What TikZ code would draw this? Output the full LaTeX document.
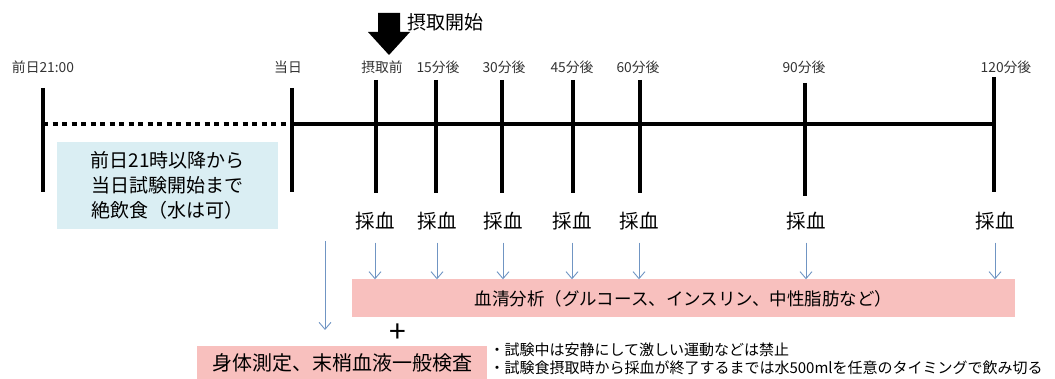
\documentclass[tikz,border=0pt]{standalone}
\usepackage{fontspec}
\setmainfont{Noto Sans CJK JP}
\usetikzlibrary{arrows.meta}

\definecolor{boxblue}{HTML}{DAEEF3}
\definecolor{boxpink}{HTML}{F8C0BE}
\definecolor{arrowblue}{HTML}{7095C3}

\begin{document}
\begin{tikzpicture}[x=1pt, y=-1pt,
      tick/.style ={line width=4.5pt},
      timelabel/.style ={font=\fontsize{13.8}{15}\selectfont, text=black!80},
      sample/.style ={font=\fontsize{19.5}{21}\selectfont},
      blood/.style ={draw=arrowblue, line width=0.9pt, -{Straight Barb[length=7pt,width=12pt]}},
      pinkbox/.style ={fill=boxpink, inner sep=0pt}]

   \useasboundingbox (0,0) rectangle (1055,379);

   % timeline
   \coordinate (P) at (43,124);
   \coordinate (D) at (292,124);
   \coordinate (E) at (995,124);
   \draw[line width=4.5pt, dash pattern=on 5pt off 4.5pt] (P) -- (D);
   \draw[line width=4.5pt] (D) -- (E);

   \draw[tick] (43,88) -- (43,192);
   \draw[tick] (292,88) -- (292,192);
   \draw[tick] (376,80) -- (376,193);
   \draw[tick] (436,80) -- (436,193);
   \draw[tick] (502,80) -- (502,193);
   \draw[tick] (573,80) -- (573,193);
   \draw[tick] (640,80) -- (640,193);
   \draw[tick] (805,83) -- (805,196);
   \draw[tick] (994,77) -- (994,192);

   \node[timelabel] (lP) at (43,67)  {前日21:00};
   \node[timelabel] (lD) at (288,67) {当日};
   \node[timelabel] (l0) at (382,67) {摂取前};
   \node[timelabel] (l15) at (438,67) {15分後};
   \node[timelabel] (l30) at (504,67) {30分後};
   \node[timelabel] (l45) at (572,67) {45分後};
   \node[timelabel] (l60) at (638,67) {60分後};
   \node[timelabel] (l90) at (804,67) {90分後};
   \node[timelabel] (l120) at (1006,67) {120分後};

   % start of intake
   \fill (378,13) -- (400,13) -- (400,32) -- (410,32) -- (389,55)
      -- (368,32) -- (378,32) -- cycle;
   \node[anchor=west, font=\fontsize{19}{21}\selectfont] (start) at (404,22) {摂取開始};

   \node[fill=boxblue, minimum width=221pt, minimum height=87pt, align=center,
      font=\fontsize{19}{25}\selectfont] (fast) at (167.5,185.5)
      {前日21時以降から\\当日試験開始まで\\絶飲食（水は可）};

   % blood sampling
   \node[sample] (s0) at (375,221) {採血};
   \node[sample] (s15) at (437,221) {採血};
   \node[sample] (s30) at (503,221) {採血};
   \node[sample] (s45) at (572,221) {採血};
   \node[sample] (s60) at (639,221) {採血};
   \node[sample] (s90) at (806,221) {採血};
   \node[sample] (s120) at (995,221) {採血};

   \node[pinkbox, minimum width=663pt, minimum height=38pt,
      font=\fontsize{17.5}{20}\selectfont] (ana) at (683.5,298.5)
      {血清分析（グルコース、インスリン、中性脂肪など）};

   \draw[blood] ([yshift=-9pt]s0.south) -- (s0.south |- ana.north);
   \draw[blood] ([yshift=-9pt]s15.south) -- (s15.south |- ana.north);
   \draw[blood] ([yshift=-9pt]s30.south) -- (s30.south |- ana.north);
   \draw[blood] ([yshift=-9pt]s45.south) -- (s45.south |- ana.north);
   \draw[blood] ([yshift=-9pt]s60.south) -- (s60.south |- ana.north);
   \draw[blood] ([yshift=-9pt]s90.south) -- (s90.south |- ana.north);
   \draw[blood] ([yshift=-9pt]s120.south) -- (s120.south |- ana.north);

   % body check
   \node[pinkbox, minimum width=290pt, minimum height=33pt,
      font=\fontsize{20}{22}\selectfont] (body) at (342,362.5)
      {身体測定、末梢血液一般検査};
   \coordinate (bodytop) at (325,241);
   \coordinate (bodyin) at (325,330);
   \draw[blood] (bodytop) -- (bodyin);

   \node[font=\fontsize{30}{30}\selectfont] (plus) at (398,333) {+};

   \node[anchor=north west, align=left, font=\fontsize{15}{18}\selectfont]
      (notes) at (486,339)
      {・試験中は安静にして激しい運動などは禁止\\
       ・試験食摂取時から採血が終了するまでは水500mlを任意のタイミングで飲み切る};

\end{tikzpicture}
\end{document}
